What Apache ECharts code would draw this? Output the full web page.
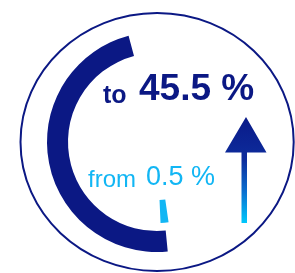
<!DOCTYPE html>
<html>
<head>
<meta charset="utf-8">
<script src="https://cdn.jsdelivr.net/npm/echarts@6/dist/echarts.min.js"></script>
<style>
  html, body { margin: 0; padding: 0; background: #fff; }
  #chart { width: 295px; height: 273px; }
</style>
</head>
<body>
<div id="chart"></div>
<script>
// values shown in the picture
var labels = ['from', 'to'];
var values = [0.5, 45.5];
var unit = ' %';

var NAVY = '#0b1884';
var CYAN = '#12b6f4';

var myChart = echarts.init(document.getElementById('chart'));

// arrow shape (decoration only)
var arrowPts = [
    [246, 117], [266.5, 152.5], [247, 152.5], [247, 223],
    [241.5, 223], [241.5, 152.5], [225, 152.5]
];

myChart.setOption({
    animation: false,
    backgroundColor: '#fff',
    polar: [
        { center: [157, 142], radius: [89, 110] },
        { center: [157, 142], radius: [58, 81] }
    ],
    angleAxis: [
        {
            polarIndex: 0, type: 'value', min: 0, max: 96,
            startAngle: -84.4, clockwise: true, show: false,
            axisLine: { show: false }, axisTick: { show: false },
            axisLabel: { show: false }, splitLine: { show: false }
        },
        {
            polarIndex: 1, type: 'value', min: 0, max: 31.6,
            startAngle: -81.8, clockwise: true, show: false,
            axisLine: { show: false }, axisTick: { show: false },
            axisLabel: { show: false }, splitLine: { show: false }
        }
    ],
    radiusAxis: [
        { polarIndex: 0, type: 'category', data: [labels[1]], show: false },
        { polarIndex: 1, type: 'category', data: [labels[0]], show: false }
    ],
    series: [
        {
            name: labels[1], type: 'bar', coordinateSystem: 'polar', polarIndex: 0,
            data: [values[1]], barWidth: '100%', silent: true,
            itemStyle: { color: NAVY }
        },
        {
            name: labels[0], type: 'bar', coordinateSystem: 'polar', polarIndex: 1,
            data: [values[0]], barWidth: '100%', silent: true,
            itemStyle: { color: CYAN }
        }
    ],
    graphic: [
        {
            type: 'ellipse', silent: true,
            shape: { cx: 157.1, cy: 142, rx: 136.6, ry: 129 },
            style: { fill: 'none', stroke: NAVY, lineWidth: 2 }
        },
        {
            type: 'polygon', silent: true,
            shape: { points: arrowPts },
            style: {
                fill: {
                    type: 'linear', x: 0, y: 0, x2: 0, y2: 1,
                    colorStops: [
                        { offset: 0, color: '#0a1a88' },
                        { offset: 0.4, color: '#0d2c9c' },
                        { offset: 0.7, color: '#0a6ecf' },
                        { offset: 1, color: '#00c8fc' }
                    ]
                }
            }
        },
        // "to 45.5 %"
        {
            type: 'text', left: 103, top: 84, silent: true,
            style: {
                text: labels[1], fill: NAVY,
                font: 'bold 25px "Liberation Sans", Arial, sans-serif'
            }
        },
        {
            type: 'text', left: 139, top: 71, silent: true,
            style: {
                text: values[1] + unit, fill: NAVY,
                font: 'bold 37px "Liberation Sans", Arial, sans-serif'
            }
        },
        // "from 0.5 %"
        {
            type: 'text', left: 88, top: 168, silent: true,
            style: {
                text: labels[0], fill: CYAN,
                font: '24px "Liberation Sans", Arial, sans-serif'
            }
        },
        {
            type: 'text', left: 146, top: 164, silent: true,
            style: {
                text: values[0] + unit, fill: CYAN,
                font: '27px "Liberation Sans", Arial, sans-serif'
            }
        }
    ]
});
</script>
</body>
</html>
